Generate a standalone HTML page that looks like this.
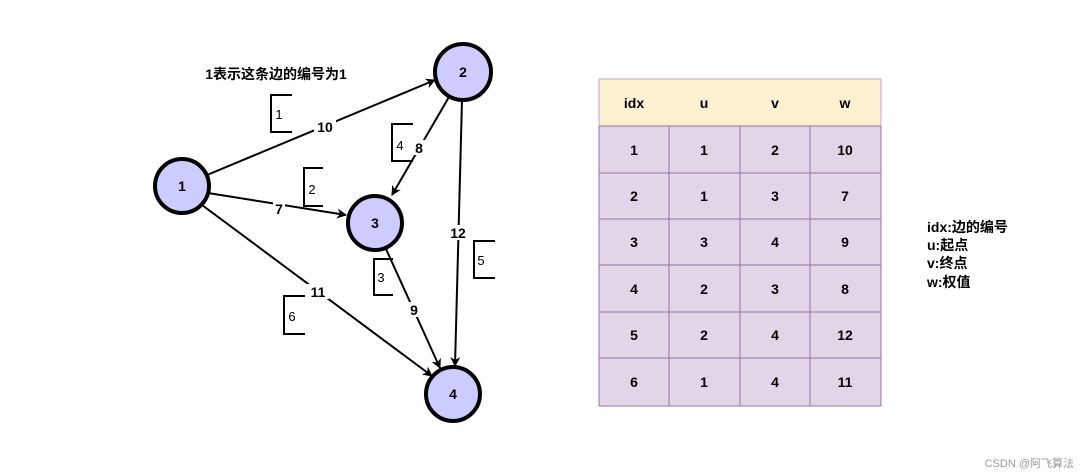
<!DOCTYPE html>
<html><head><meta charset="utf-8"><style>
html,body{margin:0;padding:0;background:#fff;}
body{width:1080px;height:474px;position:relative;overflow:hidden;font-family:"Liberation Sans","Noto Sans CJK SC",sans-serif;}
svg{position:absolute;left:0;top:0}
</style></head><body>
<svg width="1080" height="474" viewBox="0 0 1080 474" font-family="Liberation Sans, Noto Sans CJK SC, sans-serif">
<defs><marker id="a" markerWidth="10" markerHeight="10" refX="9" refY="5" orient="auto" markerUnits="userSpaceOnUse"><path d="M0,0 L10,5 L0,10 L3,5 Z" fill="#000"/></marker></defs>
<g stroke="#000" stroke-width="2" fill="none">
<line x1="207" y1="175" x2="435" y2="80" marker-end="url(#a)"/>
<line x1="208" y1="193" x2="346" y2="215" marker-end="url(#a)"/>
<line x1="202" y1="205" x2="432" y2="376" marker-end="url(#a)"/>
<line x1="449" y1="97" x2="392" y2="195" marker-end="url(#a)"/>
<line x1="462" y1="100" x2="455" y2="366" marker-end="url(#a)"/>
<line x1="386" y1="249" x2="440" y2="368" marker-end="url(#a)"/>
</g>
<g fill="#ccccff" stroke="#000" stroke-width="4">
<circle cx="182" cy="186" r="27"/><circle cx="463" cy="72" r="28"/>
<circle cx="375" cy="223" r="27"/><circle cx="453" cy="394" r="27"/>
</g>
<g font-weight="bold" font-size="14" text-anchor="middle">
<text x="182" y="191">1</text><text x="463" y="77">2</text><text x="375" y="228">3</text><text x="453" y="399">4</text>
</g>
<g font-weight="bold" font-size="14" text-anchor="middle">
<rect x="314" y="119" width="22" height="14" fill="#fff"/><text x="325" y="132">10</text>
<rect x="413" y="140" width="12" height="15" fill="#fff"/><text x="419" y="153">8</text>
<rect x="273" y="201" width="12" height="15" fill="#fff"/><text x="279" y="214">7</text>
<rect x="447" y="225" width="22" height="15" fill="#fff"/><text x="458" y="238">12</text>
<rect x="408" y="302" width="12" height="15" fill="#fff"/><text x="414" y="315">9</text>
<rect x="307" y="284" width="22" height="15" fill="#fff"/><text x="318" y="297">11</text>
</g>
<text x="276" y="79" font-weight="bold" font-size="14" text-anchor="middle">1表示这条边的编号为1</text>
<g stroke="#000" stroke-width="2" fill="none">
<path d="M292,95 L271,95 L271,132 L292,132"/>
<path d="M413,124 L392,124 L392,161 L413,161"/>
<path d="M323,168 L304,168 L304,206 L323,206"/>
<path d="M393,259 L374,259 L374,295 L393,295"/>
<path d="M495,241 L474,241 L474,278 L495,278"/>
<path d="M305,296 L284,296 L284,334 L305,334"/>
</g>
<g font-size="13" text-anchor="middle">
<text x="279" y="119">1</text><text x="400" y="150">4</text><text x="312" y="194">2</text>
<text x="381" y="282">3</text><text x="481" y="265">5</text><text x="292" y="321">6</text>
</g>
<rect x="599" y="79" width="282" height="47" fill="#fcf0d0" stroke="#c0a8d0" stroke-width="1"/>
<rect x="599" y="126" width="282" height="280" fill="#e1d5e7" stroke="#9673a6" stroke-width="1"/>
<g stroke="#9673a6" stroke-width="1">
<line x1="599" y1="173" x2="881" y2="173"/><line x1="599" y1="219" x2="881" y2="219"/>
<line x1="599" y1="265" x2="881" y2="265"/><line x1="599" y1="312" x2="881" y2="312"/>
<line x1="599" y1="358" x2="881" y2="358"/>
<line x1="669" y1="126" x2="669" y2="406"/><line x1="740" y1="126" x2="740" y2="406"/><line x1="810" y1="126" x2="810" y2="406"/>
</g>
<g font-weight="bold" font-size="14" text-anchor="middle">
<text x="634" y="108">idx</text><text x="704" y="108">u</text><text x="775" y="108">v</text><text x="845" y="108">w</text>
<text x="634" y="155">1</text><text x="704" y="155">1</text><text x="775" y="155">2</text><text x="845" y="155">10</text>
<text x="634" y="201">2</text><text x="704" y="201">1</text><text x="775" y="201">3</text><text x="845" y="201">7</text>
<text x="634" y="247">3</text><text x="704" y="247">3</text><text x="775" y="247">4</text><text x="845" y="247">9</text>
<text x="634" y="294">4</text><text x="704" y="294">2</text><text x="775" y="294">3</text><text x="845" y="294">8</text>
<text x="634" y="340">5</text><text x="704" y="340">2</text><text x="775" y="340">4</text><text x="845" y="340">12</text>
<text x="634" y="387">6</text><text x="704" y="387">1</text><text x="775" y="387">4</text><text x="845" y="387">11</text>
</g>
<g font-weight="bold" font-size="14">
<text x="927" y="232">idx:边的编号</text><text x="927" y="250">u:起点</text>
<text x="927" y="268">v:终点</text><text x="927" y="287">w:权值</text>
</g>
<text x="1074" y="467" font-size="11" fill="#999" text-anchor="end">CSDN @阿飞算法</text>
</svg>
</body></html>
